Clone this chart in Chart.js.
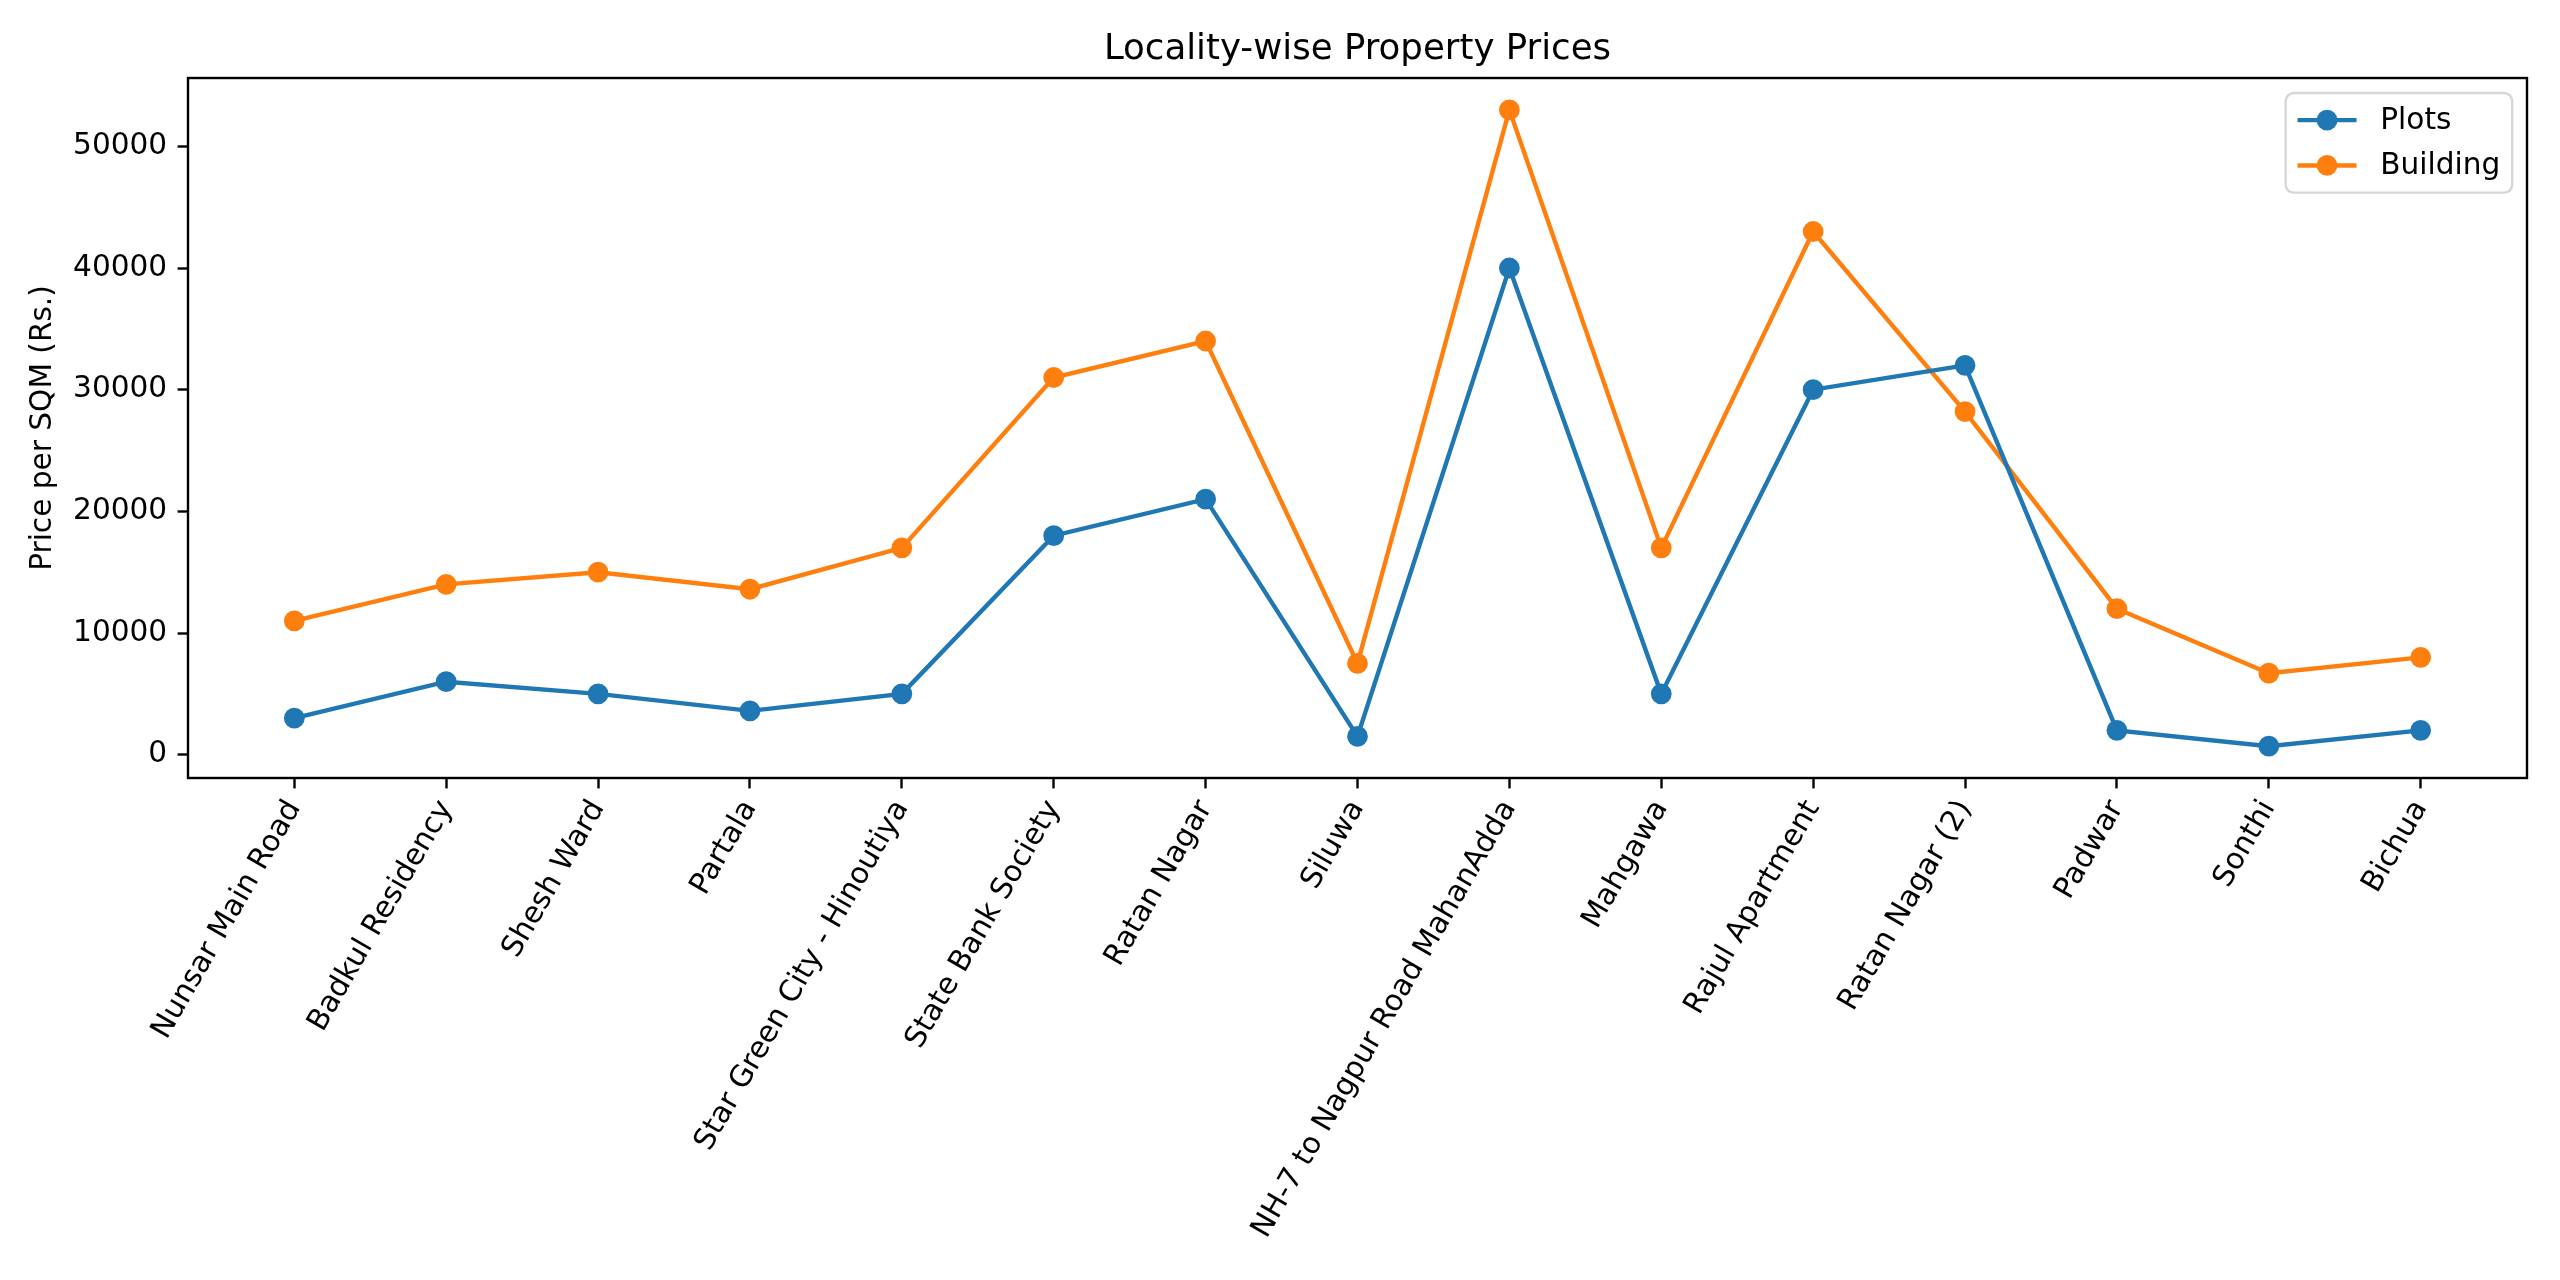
<!DOCTYPE html>
<html>
<head>
<meta charset="utf-8">
<title>Locality-wise Property Prices</title>
<script src="https://cdn.jsdelivr.net/npm/chart.js@4.4.1/dist/chart.umd.min.js"></script>
<style>
  html, body { margin: 0; padding: 0; background: #fff; }
  #wrap { width: 2560px; height: 1280px; position: relative; }
</style>
</head>
<body>
<div id="wrap"><canvas id="price-chart"></canvas></div>
<script>
// locality names along the x axis
var localities = [
  'Nunsar Main Road', 'Badkul Residency', 'Shesh Ward', 'Partala',
  'Star Green City - Hinoutiya', 'State Bank Society', 'Ratan Nagar', 'Siluwa',
  'NH-7 to Nagpur Road MahanAdda', 'Mahgawa', 'Rajul Apartment', 'Ratan Nagar (2)',
  'Padwar', 'Sonthi', 'Bichua'
];

// price per sqm
var plotPrices     = [3000, 6000, 5000, 3600, 5000, 18000, 21000, 1500, 40000, 5000, 30000, 32000, 2000, 700, 2000];
var buildingPrices = [11000, 14000, 15000, 13600, 17000, 31000, 34000, 7500, 53000, 17000, 43000, 28200, 12000, 6700, 8000];

var yTicks = [0, 10000, 20000, 30000, 40000, 50000];

var FONT = '"DejaVu Sans", "Liberation Sans", sans-serif';
var blue = '#1f77b4';
var orange = '#ff7f0e';

function toPoints(arr) {
  return arr.map(function (v, i) { return { x: i, y: v }; });
}

// box around the plot like the matplotlib spines
var frameBox = {
  id: 'frameBox',
  afterDatasetsDraw: function (chart) {
    var a = chart.chartArea, ctx = chart.ctx;
    ctx.save();
    ctx.strokeStyle = '#000';
    ctx.lineWidth = 2.4;
    ctx.strokeRect(a.left, a.top, a.right - a.left, a.bottom - a.top);
    ctx.restore();
  }
};

// legend in the upper right corner, inside the axes
var cornerLegend = {
  id: 'cornerLegend',
  afterDraw: function (chart) {
    var ctx = chart.ctx, a = chart.chartArea;
    var sets = chart.data.datasets;
    var fs = 29.6, pad = 11.9, handle = 59, gap = 23.7, spacing = 14.8, rowH = 30.5;
    ctx.save();
    ctx.font = fs + 'px ' + FONT;
    var textW = 0;
    sets.forEach(function (d) { textW = Math.max(textW, ctx.measureText(d.label).width); });
    var w = pad * 2 + handle + gap + textW;
    var h = pad * 2 + sets.length * rowH + (sets.length - 1) * spacing;
    var x = a.right - 14.8 - w, y = a.top + 15, r = 8;

    ctx.beginPath();
    ctx.moveTo(x + r, y);
    ctx.arcTo(x + w, y, x + w, y + h, r);
    ctx.arcTo(x + w, y + h, x, y + h, r);
    ctx.arcTo(x, y + h, x, y, r);
    ctx.arcTo(x, y, x + w, y, r);
    ctx.closePath();
    ctx.fillStyle = 'rgba(255,255,255,0.8)';
    ctx.fill();
    ctx.strokeStyle = '#d6d6d6';
    ctx.lineWidth = 2.4;
    ctx.stroke();

    sets.forEach(function (d, i) {
      var cy = y + pad + rowH / 2 + i * (rowH + spacing);
      var hx = x + pad;
      ctx.strokeStyle = d.borderColor;
      ctx.lineWidth = d.borderWidth;
      ctx.beginPath();
      ctx.moveTo(hx, cy);
      ctx.lineTo(hx + handle, cy);
      ctx.stroke();
      ctx.fillStyle = d.pointBackgroundColor;
      ctx.beginPath();
      ctx.arc(hx + handle / 2, cy, d.pointRadius + d.pointBorderWidth / 2, 0, Math.PI * 2);
      ctx.fill();
      ctx.fillStyle = '#000';
      ctx.textBaseline = 'middle';
      ctx.textAlign = 'left';
      ctx.fillText(d.label, hx + handle + gap, cy + 1);
    });
    ctx.restore();
  }
};

var ctx = document.getElementById('price-chart').getContext('2d');
var chart = new Chart(ctx, {
  type: 'line',
  data: {
    datasets: [{
      label: 'Plots',
      data: toPoints(plotPrices),
      borderColor: blue,
      backgroundColor: blue,
      pointBackgroundColor: blue,
      pointBorderColor: blue,
      borderWidth: 4.4,
      pointRadius: 8.9,
      pointBorderWidth: 3,
      tension: 0,
      clip: false
    }, {
      label: 'Building',
      data: toPoints(buildingPrices),
      borderColor: orange,
      backgroundColor: orange,
      pointBackgroundColor: orange,
      pointBorderColor: orange,
      borderWidth: 4.4,
      pointRadius: 8.9,
      pointBorderWidth: 3,
      tension: 0,
      clip: false
    }]
  },
  options: {
    responsive: true,
    maintainAspectRatio: false,
    devicePixelRatio: 1,
    animation: false,
    events: [],
    layout: { padding: { left: 0, right: 33, top: 0, bottom: 0 } },
    plugins: {
      legend: { display: false },
      tooltip: { enabled: false },
      title: {
        display: true,
        fullSize: false,
        text: 'Locality-wise Property Prices',
        color: '#000',
        font: { family: FONT, size: 35.6, weight: 'normal' },
        padding: { top: 28, bottom: 7.3 }
      }
    },
    scales: {
      x: {
        type: 'linear',
        min: -0.7,
        max: localities.length - 1 + 0.7,
        afterBuildTicks: function (scale) {
          scale.ticks = localities.map(function (c, i) { return { value: i }; });
        },
        afterFit: function (scale) {
          scale.height = 502;
          scale.paddingLeft = 0;
          scale.paddingRight = 0;
        },
        border: { display: false },
        grid: { drawOnChartArea: false, color: '#000', tickLength: 10.4, tickWidth: 2.4 },
        ticks: {
          autoSkip: false,
          minRotation: 60,
          maxRotation: 60,
          padding: 6,
          color: '#000',
          font: { family: FONT, size: 29.6 },
          callback: function (v) { return localities[v]; }
        }
      },
      y: {
        min: -1915,
        max: 55615,
        afterBuildTicks: function (scale) {
          scale.ticks = yTicks.map(function (v) { return { value: v }; });
        },
        afterFit: function (scale) { scale.width = 188; },
        border: { display: false },
        grid: { drawOnChartArea: false, color: '#000', tickLength: 10.4, tickWidth: 2.4 },
        ticks: {
          padding: 10.4,
          color: '#000',
          font: { family: FONT, size: 29.6 },
          callback: function (v) { return String(v); }
        },
        title: {
          display: true,
          text: 'Price per SQM (Rs.)',
          color: '#000',
          font: { family: FONT, size: 29.6 },
          padding: { top: 26, bottom: 0 }
        }
      }
    }
  },
  plugins: [frameBox, cornerLegend]
});
</script>
</body>
</html>
